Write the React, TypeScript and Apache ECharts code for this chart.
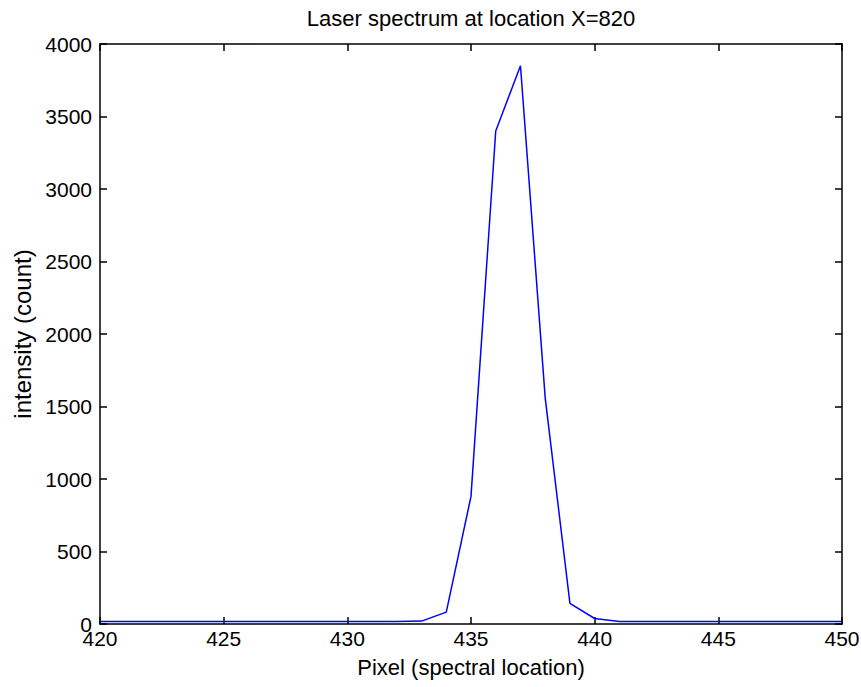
import React, { useEffect, useRef } from "react";
import * as echarts from "echarts";

const pixels = [420, 421, 422, 423, 424, 425, 426, 427, 428, 429, 430, 431, 432, 433, 434, 435, 436, 437, 438, 439, 440, 441, 442, 443, 444, 445, 446, 447, 448, 449, 450];
const intensity = [18, 18, 18, 18, 18, 18, 18, 18, 18, 18, 18, 18, 18, 20, 82, 880, 3400, 3850, 1560, 142, 38, 18, 18, 18, 18, 18, 18, 18, 18, 18, 18];
const titleText = "Laser spectrum at location X=820";
const xLabel = "Pixel (spectral location)";
const yLabel = "intensity (count)";

export default function App() {
  const ref = useRef<HTMLDivElement>(null);
  useEffect(() => {
    const chart = echarts.init(ref.current!, null, { renderer: "svg" });
    const font = "Arial, 'Liberation Sans', sans-serif";
    const axisCommon = {
      axisLine: { show: true, onZero: false, lineStyle: { color: "#000", width: 1.5 } },
      axisTick: { show: true, inside: true, length: 7, lineStyle: { color: "#000", width: 1.5 } },
      splitLine: { show: false },
    };
    chart.setOption({
      animation: false,
      backgroundColor: "#fff",
      graphic: [
        {
          type: "text",
          x: 471,
          y: 18,
          style: {
            text: titleText,
            fontFamily: font,
            fontSize: 22,
            fill: "#000",
            textAlign: "center",
            textVerticalAlign: "middle",
          },
        },
      ],
      grid: { left: 100, top: 44, right: 19, bottom: 63, containLabel: false, outerBoundsMode: "none" },
      xAxis: [
        {
          type: "value",
          min: 420,
          max: 450,
          interval: 5,
          position: "bottom",
          name: xLabel,
          nameLocation: "middle",
          nameGap: 32,
          nameTextStyle: { fontFamily: font, fontSize: 22, color: "#000" },
          axisLabel: { fontFamily: font, fontSize: 21, color: "#000", margin: 4, formatter: (v: number) => String(v) },
          ...axisCommon,
        },
        {
          type: "value",
          min: 420,
          max: 450,
          interval: 5,
          position: "top",
          axisLabel: { show: false },
          ...axisCommon,
        },
      ],
      yAxis: [
        {
          type: "value",
          min: 0,
          max: 4000,
          interval: 500,
          position: "left",
          name: yLabel,
          nameLocation: "middle",
          nameGap: 66,
          nameTextStyle: { fontFamily: font, fontSize: 24, color: "#000" },
          axisLabel: { fontFamily: font, fontSize: 21, color: "#000", margin: 8, formatter: (v: number) => String(v) },
          ...axisCommon,
        },
        {
          type: "value",
          min: 0,
          max: 4000,
          interval: 500,
          position: "right",
          axisLabel: { show: false },
          ...axisCommon,
        },
      ],
      series: [
        {
          type: "line",
          data: pixels.map((p, i) => [p, intensity[i]]),
          showSymbol: false,
          symbol: "none",
          lineStyle: { color: "#0000ff", width: 1.5 },
        },
      ],
    });
    return () => chart.dispose();
  }, []);
  return (
    <div
      ref={ref}
      style={{ position: "fixed", left: 0, top: 0, width: 861, height: 687 }}
    />
  );
}
